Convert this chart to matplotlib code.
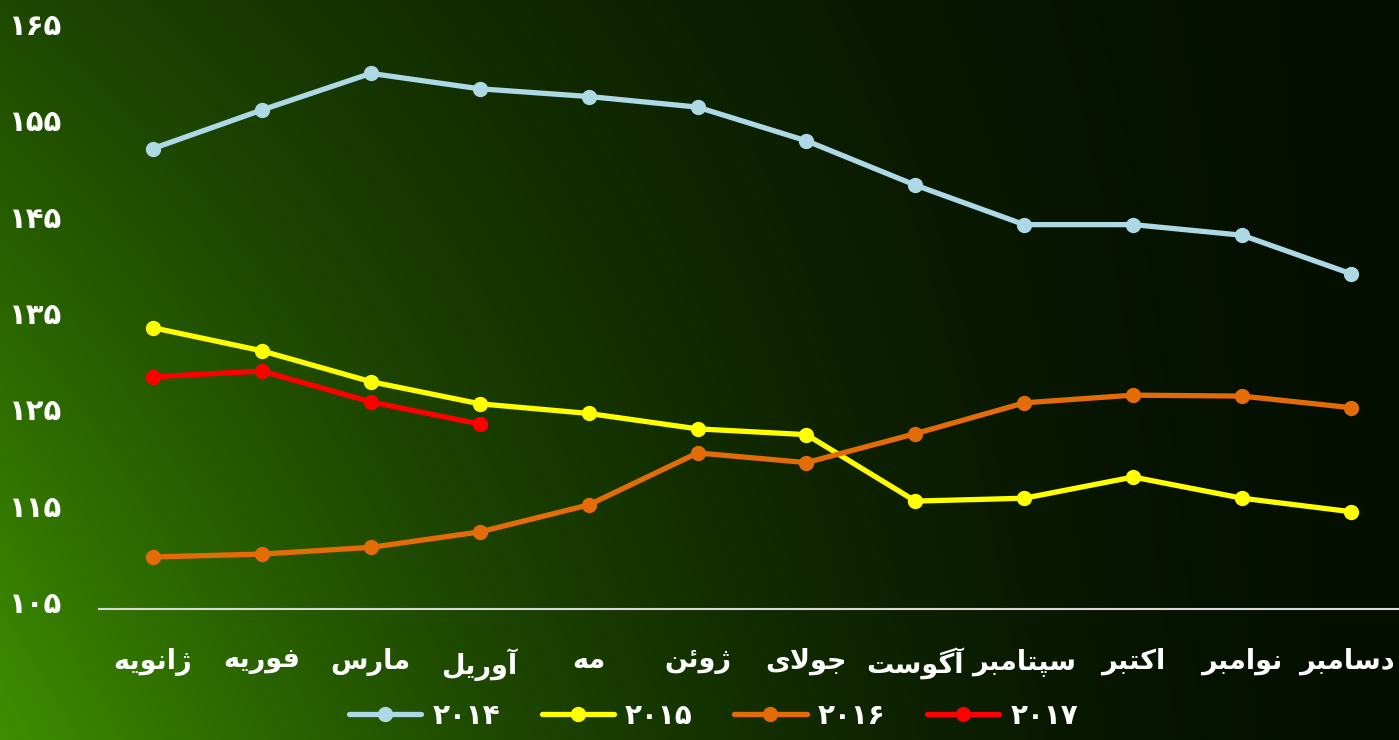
import numpy as np
import matplotlib
matplotlib.use('Agg')
import matplotlib.pyplot as plt
from matplotlib.transforms import ScaledTranslation

plt.rcParams['font.family'] = ['DejaVu Sans']
plt.rcParams['font.weight'] = 'bold'

# ---- data ----
months = ['ژانویه', 'فوریه', 'مارس', 'آوریل', 'مه', 'ژوئن',
          'جولای', 'آگوست', 'سپتامبر', 'اکتبر', 'نوامبر', 'دسامبر']
s2014 = [152.8, 156.8, 160.6, 159.0, 158.2, 157.1, 153.6, 149.0, 144.9, 144.9, 143.8, 139.8]
s2015 = [134.2, 131.8, 128.6, 126.3, 125.3, 123.7, 123.1, 116.2, 116.5, 118.7, 116.5, 115.1]
s2016 = [110.4, 110.7, 111.4, 113.0, 115.8, 121.2, 120.2, 123.2, 126.4, 127.2, 127.1, 125.9]
s2017 = [129.1, 129.7, 126.5, 124.2]
series_names = ['۲۰۱۴', '۲۰۱۵', '۲۰۱۶', '۲۰۱۷']
yticks = [105, 115, 125, 135, 145, 155, 165]
ytick_labels = ['۱۰۵', '۱۱۵', '۱۲۵', '۱۳۵', '۱۴۵', '۱۵۵', '۱۶۵']
colors = ['#add8e6', '#ffff00', '#e36c09', '#ff0000']

# ---- minimal arabic/persian shaping (matplotlib has no bidi) ----
FORMS = {
    'ا': ('\uFE8D', '\uFE8E'), 'آ': ('\uFE81', '\uFE82'),
    'د': ('\uFEA9', '\uFEAA'), 'ر': ('\uFEAD', '\uFEAE'),
    'ز': ('\uFEAF', '\uFEB0'), 'ژ': ('\uFB8A', '\uFB8B'),
    'و': ('\uFEED', '\uFEEE'), 'ؤ': ('\uFE85', '\uFE86'),
    'ب': ('\uFE8F', '\uFE90', '\uFE91', '\uFE92'),
    'پ': ('\uFB56', '\uFB57', '\uFB58', '\uFB59'),
    'ت': ('\uFE95', '\uFE96', '\uFE97', '\uFE98'),
    'ج': ('\uFE9D', '\uFE9E', '\uFE9F', '\uFEA0'),
    'س': ('\uFEB1', '\uFEB2', '\uFEB3', '\uFEB4'),
    'ف': ('\uFED1', '\uFED2', '\uFED3', '\uFED4'),
    'ک': ('\uFB8E', '\uFB8F', '\uFB90', '\uFB91'),
    'گ': ('\uFB92', '\uFB93', '\uFB94', '\uFB95'),
    'ل': ('\uFEDD', '\uFEDE', '\uFEDF', '\uFEE0'),
    'م': ('\uFEE1', '\uFEE2', '\uFEE3', '\uFEE4'),
    'ن': ('\uFEE5', '\uFEE6', '\uFEE7', '\uFEE8'),
    'ه': ('\uFEE9', '\uFEEA', '\uFEEB', '\uFEEC'),
    'ی': ('\uFBFC', '\uFBFD', '\uFBFE', '\uFBFF'),
    'ئ': ('\uFE89', '\uFE8A', '\uFE8B', '\uFE8C'),
}


def dual(c):
    return c in FORMS and len(FORMS[c]) == 4


def shape(word):
    out = []
    i = 0
    while i < len(word):
        c = word[i]
        prev = i > 0 and dual(word[i - 1])
        if c == 'ل' and i + 1 < len(word) and word[i + 1] in 'اآ':
            out.append('\uFEFC' if prev else '\uFEFB')
            i += 2
            continue
        if c not in FORMS:
            out.append(c)
            i += 1
            continue
        nxt = dual(c) and i + 1 < len(word) and word[i + 1] in FORMS
        f = FORMS[c]
        if prev and nxt:
            out.append(f[3])
        elif prev:
            out.append(f[1])
        elif nxt:
            out.append(f[2])
        else:
            out.append(f[0])
        i += 1
    return ''.join(reversed(out))


# ---- figure ----
fig = plt.figure(figsize=(13.99, 7.40), dpi=100)

# gradient background: bright green bottom-left fading to near black on the right
W, H = 700, 370
u = np.linspace(0, 1, W)[None, :]
v = np.linspace(0, 1, H)[:, None]
w = np.clip(1 - u, 0, 1) ** 1.8 * (0.45 + 0.55 * v)
green = np.array([0.24, 0.56, 0.0])
dark = np.array([0.02, 0.06, 0.0])
img = dark + (green - dark) * w[..., None]
bg = fig.add_axes([0, 0, 1, 1], zorder=0)
bg.imshow(img, aspect='auto', extent=[0, 1, 0, 1], origin='upper')
bg.axis('off')

ax = fig.add_axes([98.5 / 1399, 1 - 609 / 740, 1307 / 1399, (609 - 31) / 740], zorder=1)
ax.patch.set_alpha(0)

x = np.arange(len(months))
for vals, name, col in zip([s2014, s2015, s2016, s2017], series_names, colors):
    ax.plot(x[:len(vals)], vals, color=col, lw=3.8, marker='o', ms=10,
            solid_capstyle='round', label=name, clip_on=False)

ax.set_xlim(-0.5, 11.5)
ax.set_ylim(105, 165)
ax.set_xticks(x)
ax.set_xticklabels([shape(m) for m in months], fontsize=19.5, color='white', fontweight='bold')
ax.set_yticks(yticks)
ax.set_yticklabels(ytick_labels, fontsize=21, color='white', fontweight='bold')
ax.tick_params(axis='both', length=0)
ax.tick_params(axis='x', pad=28)
ax.tick_params(axis='y', pad=26)
up = ScaledTranslation(0, 7 / 100, fig.dpi_scale_trans)
for lab in ax.get_yticklabels():
    lab.set_transform(lab.get_transform() + up)
# keep the last month label inside the figure
left = ScaledTranslation(-4 / 100, 0, fig.dpi_scale_trans)
last = ax.get_xticklabels()[-1]
last.set_transform(last.get_transform() + left)
for s in ['top', 'right', 'left']:
    ax.spines[s].set_visible(False)
ax.spines['bottom'].set_color('#d9d9d9')
ax.spines['bottom'].set_linewidth(1.5)

leg = fig.legend(loc='lower center', ncol=4, frameon=False, fontsize=20,
                 bbox_to_anchor=(0.51, -0.02), handlelength=2.6, columnspacing=1.5,
                 handletextpad=0.4)
for t in leg.get_texts():
    t.set_color('white')
    t.set_fontweight('bold')

fig.savefig('out.png', dpi=100)
